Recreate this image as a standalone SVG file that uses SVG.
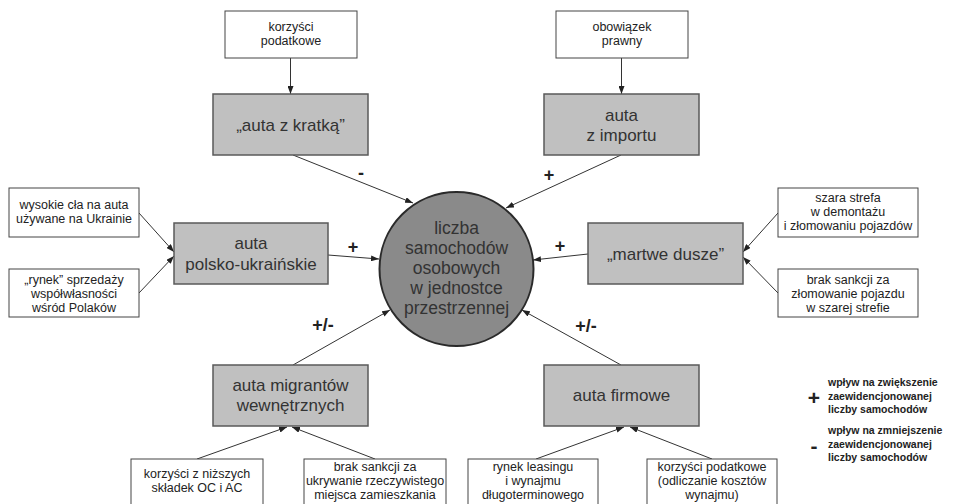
<svg xmlns="http://www.w3.org/2000/svg" width="953" height="504" viewBox="0 0 953 504">
<defs>
<marker id="ah" markerUnits="userSpaceOnUse" markerWidth="8" markerHeight="6" refX="8" refY="3" orient="auto">
<path d="M0,0 L8,3 L0,6 z" fill="#222"/>
</marker>
<style>
.g rect{fill:#c0c0c0;stroke:#5a5a5a;stroke-width:1.5}
.w rect{fill:#fff;stroke:#444;stroke-width:1}
.gt{font-family:"Liberation Sans",Arial,sans-serif;font-size:17px;fill:#333;text-anchor:middle}
.wt{font-family:"Liberation Sans",Arial,sans-serif;font-size:12.5px;fill:#222;text-anchor:middle}
.ct{font-family:"Liberation Sans",Arial,sans-serif;font-size:17.5px;fill:#333;text-anchor:middle}
.sg{font-family:"Liberation Sans",Arial,sans-serif;font-size:18px;font-weight:bold;fill:#222;text-anchor:middle}
.lg{font-family:"Liberation Sans",Arial,sans-serif;font-size:10.5px;font-weight:bold;fill:#222}
.cn line{stroke:#333;stroke-width:1;marker-end:url(#ah)}
</style>
</defs>
<rect width="953" height="504" fill="#fff"/>

<g id="connectors" class="cn">
<line x1="290.5" y1="58" x2="290.5" y2="94"/>
<line x1="621.5" y1="58" x2="621.5" y2="94"/>
<line x1="293" y1="155" x2="413" y2="203"/>
<line x1="621" y1="155" x2="506" y2="208"/>
<line x1="328" y1="255" x2="379" y2="259"/>
<line x1="588" y1="254" x2="533" y2="260"/>
<line x1="293" y1="365" x2="390" y2="310"/>
<line x1="621" y1="365" x2="522" y2="310"/>
<line x1="139" y1="213" x2="174" y2="252"/>
<line x1="139" y1="293" x2="174" y2="256"/>
<line x1="778" y1="213" x2="743" y2="252"/>
<line x1="778" y1="293" x2="743" y2="257"/>
<line x1="197" y1="459" x2="287" y2="427"/>
<line x1="375" y1="459" x2="292" y2="427"/>
<line x1="536" y1="459" x2="624" y2="427"/>
<line x1="712" y1="459" x2="630" y2="427"/>
</g>

<g id="signs">
<text class="sg" x="361" y="179">-</text>
<text class="sg" x="549" y="181">+</text>
<text class="sg" x="353" y="253">+</text>
<text class="sg" x="560" y="252">+</text>
<text class="sg" x="323" y="331">+/-</text>
<text class="sg" x="586" y="332">+/-</text>
</g>

<g id="center">
<circle cx="456.5" cy="269" r="77" fill="#8a8a8a" stroke="#2a2a2a" stroke-width="2"/>
<text class="ct" x="456.5" y="234">liczba</text>
<text class="ct" x="456.5" y="254">samochodów</text>
<text class="ct" x="456.5" y="274">osobowych</text>
<text class="ct" x="456.5" y="294">w jednostce</text>
<text class="ct" x="456.5" y="314">przestrzennej</text>
</g>

<g id="n-kratka" class="g"><rect x="213" y="94" width="155" height="61"/>
<text class="gt" x="290.5" y="131">„auta z kratką”</text></g>
<g id="n-import" class="g"><rect x="544" y="94" width="155" height="61"/>
<text class="gt" x="621.5" y="121">auta</text><text class="gt" x="621.5" y="141">z importu</text></g>
<g id="n-polsko" class="g"><rect x="174" y="223" width="154" height="61"/>
<text class="gt" x="251" y="249">auta</text><text class="gt" x="251" y="270">polsko-ukraińskie</text></g>
<g id="n-martwe" class="g"><rect x="588" y="223" width="155" height="61"/>
<text class="gt" x="665.5" y="260">„martwe dusze”</text></g>
<g id="n-migranci" class="g"><rect x="213" y="365" width="155" height="61"/>
<text class="gt" x="290.5" y="391">auta migrantów</text><text class="gt" x="290.5" y="411">wewnętrznych</text></g>
<g id="n-firmowe" class="g"><rect x="544" y="365" width="155" height="61"/>
<text class="gt" x="621.5" y="401">auta firmowe</text></g>

<g id="w-podatkowe1" class="w"><rect x="225" y="11" width="132" height="47"/>
<text class="wt" x="291" y="31">korzyści</text><text class="wt" x="291" y="45">podatkowe</text></g>
<g id="w-obowiazek" class="w"><rect x="556" y="11" width="132" height="47"/>
<text class="wt" x="622" y="31">obowiązek</text><text class="wt" x="622" y="45">prawny</text></g>
<g id="w-cla" class="w"><rect x="9" y="188" width="130" height="49"/>
<text class="wt" x="74" y="209">wysokie cła na auta</text><text class="wt" x="74" y="223">używane na Ukrainie</text></g>
<g id="w-rynek" class="w"><rect x="9" y="269" width="130" height="48"/>
<text class="wt" x="74" y="284">„rynek” sprzedaży</text><text class="wt" x="74" y="298">współwłasności</text><text class="wt" x="74" y="312">wśród Polaków</text></g>
<g id="w-szara" class="w"><rect x="778" y="188" width="140" height="49"/>
<text class="wt" x="848" y="202">szara strefa</text><text class="wt" x="848" y="216">w demontażu</text><text class="wt" x="848" y="230">i złomowaniu pojazdów</text></g>
<g id="w-sankcje" class="w"><rect x="778" y="269" width="140" height="48"/>
<text class="wt" x="848" y="284">brak sankcji za</text><text class="wt" x="848" y="298">złomowanie pojazdu</text><text class="wt" x="848" y="312">w szarej strefie</text></g>
<g id="w-oc" class="w"><rect x="131" y="459" width="132" height="52"/>
<text class="wt" x="197" y="478">korzyści z niższych</text><text class="wt" x="197" y="492">składek OC i AC</text></g>
<g id="w-ukrywanie" class="w"><rect x="304" y="459" width="142" height="52"/>
<text class="wt" x="375" y="471">brak sankcji za</text><text class="wt" x="375" y="485">ukrywanie rzeczywistego</text><text class="wt" x="375" y="499">miejsca zamieszkania</text></g>
<g id="w-leasing" class="w"><rect x="468" y="459" width="130" height="52"/>
<text class="wt" x="533" y="471">rynek leasingu</text><text class="wt" x="533" y="485">i wynajmu</text><text class="wt" x="533" y="499">długoterminowego</text></g>
<g id="w-podatkowe2" class="w"><rect x="647" y="459" width="130" height="52"/>
<text class="wt" x="712" y="471">korzyści podatkowe</text><text class="wt" x="712" y="485">(odliczanie kosztów</text><text class="wt" x="712" y="499">wynajmu)</text></g>

<g id="legend">
<text class="sg" x="814" y="405" style="font-size:21px">+</text>
<text class="lg" x="828" y="386">wpływ na zwiększenie</text>
<text class="lg" x="828" y="399.5">zaewidencjonowanej</text>
<text class="lg" x="828" y="413">liczby samochodów</text>
<text class="sg" x="814" y="453" style="font-size:21px">-</text>
<text class="lg" x="828" y="434">wpływ na zmniejszenie</text>
<text class="lg" x="828" y="447.5">zaewidencjonowanej</text>
<text class="lg" x="828" y="461">liczby samochodów</text>
</g>
</svg>
